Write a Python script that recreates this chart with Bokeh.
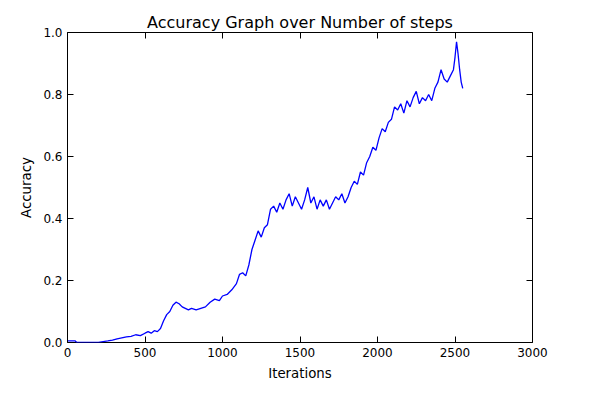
from bokeh.plotting import figure
from bokeh.models import LinearAxis, Range1d, FixedTicker, PrintfTickFormatter
from bokeh.embed import file_html
from bokeh.resources import INLINE

iterations = [0,50,60,100,150,200,230,260,290,320,350,380,410,440,470,500,520,540,560,580,600,620,640,660,680,700,720,740,760,780,800,830,860,890,920,950,980,1000,1030,1060,1090,1110,1130,1150,1170,1190,1210,1230,1250,1270,1290,1310,1330,1350,1370,1390,1410,1430,1450,1470,1490,1510,1530,1550,1570,1590,1610,1630,1650,1670,1690,1710,1730,1750,1770,1790,1810,1830,1850,1870,1890,1910,1930,1950,1970,1990,2010,2030,2050,2070,2090,2110,2130,2150,2170,2190,2210,2230,2250,2270,2290,2310,2330,2350,2370,2390,2410,2430,2450,2470,2490,2500,2510,2520,2530,2540,2550]
accuracy = [0.005,0.005,0.0,0.0,0.0,0.0,0.003,0.005,0.008,0.012,0.015,0.018,0.02,0.025,0.022,0.03,0.035,0.03,0.038,0.035,0.045,0.07,0.09,0.1,0.12,0.13,0.125,0.115,0.11,0.105,0.11,0.105,0.11,0.115,0.13,0.14,0.135,0.15,0.155,0.17,0.19,0.22,0.225,0.215,0.25,0.3,0.33,0.36,0.34,0.37,0.38,0.43,0.44,0.42,0.45,0.43,0.46,0.48,0.44,0.47,0.45,0.43,0.46,0.5,0.45,0.47,0.43,0.46,0.44,0.46,0.43,0.45,0.47,0.46,0.48,0.45,0.47,0.5,0.52,0.51,0.55,0.54,0.58,0.6,0.63,0.62,0.66,0.69,0.68,0.71,0.72,0.76,0.75,0.77,0.74,0.78,0.76,0.79,0.81,0.77,0.79,0.78,0.80,0.78,0.82,0.84,0.88,0.85,0.84,0.86,0.88,0.92,0.97,0.93,0.88,0.84,0.82,0.80]

xticks = [0,500,1000,1500,2000,2500,3000]
yticks = [0,0.2,0.4,0.6,0.8,1.0]

p = figure(width=584, height=384, output_backend="svg", toolbar_location=None,
           x_range=Range1d(0, 3000), y_range=Range1d(0, 1.0),
           title="Accuracy Graph over Number of steps",
           x_axis_location=None, y_axis_location=None,
           min_border_left=67, min_border_right=52, min_border_top=32, min_border_bottom=42)
p.line(iterations, accuracy, line_color="#0000ff", line_width=1.3)
p.title.align = "center"
p.title.text_font = "DejaVu Sans"
p.title.text_font_style = "normal"
p.title.text_font_size = "12pt"
p.title.text_color = "black"
p.title.standoff = 2
p.xgrid.visible = False
p.ygrid.visible = False
p.outline_line_color = "black"

bottom = LinearAxis(ticker=FixedTicker(ticks=xticks), axis_label="Iterations")
left = LinearAxis(ticker=FixedTicker(ticks=yticks), axis_label="Accuracy",
                  formatter=PrintfTickFormatter(format="%.1f"))
top = LinearAxis(ticker=FixedTicker(ticks=xticks), major_label_text_color=None, major_label_standoff=0)
right = LinearAxis(ticker=FixedTicker(ticks=yticks), major_label_text_color=None, major_label_standoff=0)
for ax in (bottom, left, top, right):
    ax.major_tick_in = 6
    ax.major_tick_out = 0
    ax.minor_tick_line_color = None
    ax.axis_line_color = None
    ax.major_label_text_font = "DejaVu Sans"
    ax.major_label_text_font_size = "9pt"
    ax.axis_label_text_font = "DejaVu Sans"
    ax.axis_label_text_font_style = "normal"
    ax.axis_label_text_font_size = "10pt"
    ax.axis_label_text_color = "black"
    ax.axis_label_standoff = 6
for ax in (bottom, left):
    ax.major_label_text_color = "black"
top.major_label_text_font_size = "1px"
right.major_label_text_font_size = "1px"
p.add_layout(bottom, "below")
p.add_layout(left, "left")
p.add_layout(top, "above")
p.add_layout(right, "right")

open("out.html", "w").write(file_html(p, INLINE))
